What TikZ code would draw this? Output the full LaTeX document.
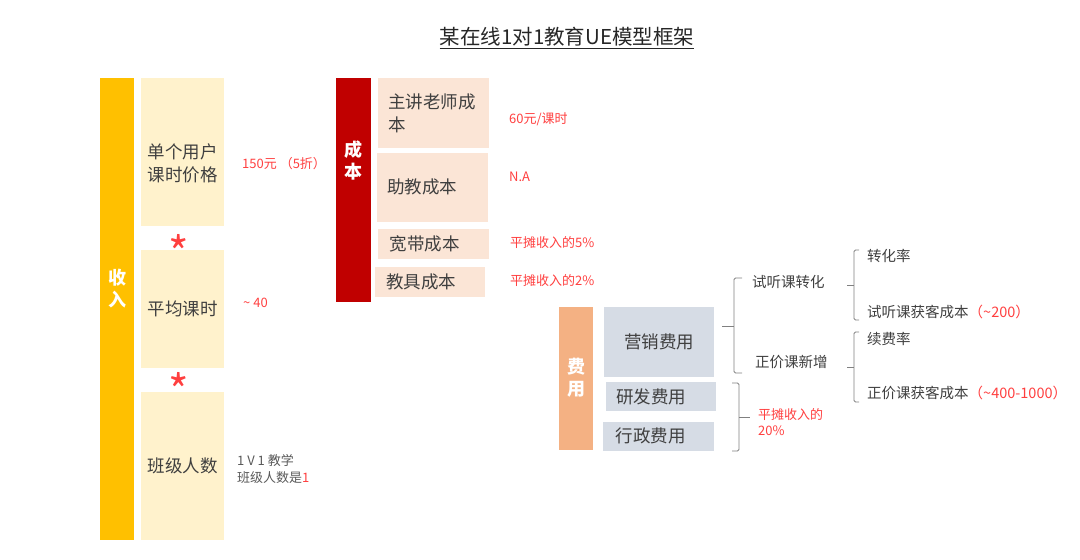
\documentclass[tikz,border=0pt]{standalone}
\usepackage{fontspec}
\setmainfont{Noto Sans CJK SC}
\usepackage{tikz}
\definecolor{cIngreso}{HTML}{FFC000}
\definecolor{cAmar}{HTML}{FFF2CC}
\definecolor{cCosto}{HTML}{C00000}
\definecolor{cMel}{HTML}{FBE5D6}
\definecolor{cGasto}{HTML}{F4B183}
\definecolor{cAzul}{HTML}{D6DCE5}
\definecolor{gristx}{HTML}{3F3F3F}
\definecolor{grisnota}{HTML}{595959}
\definecolor{rojo}{HTML}{FF3F3F}
\definecolor{grisllave}{HTML}{808080}

\begin{document}
\begin{tikzpicture}[x=1pt,y=-1pt,
  %%Configuración
  titulo/.style  = {font=\fontsize{20.5}{24}\selectfont, text=black!85, inner sep=0pt},
  barra/.style   = {fill=#1, inner sep=0pt, minimum width=34.5pt},
  bartxt/.style  = {font=\fontsize{18}{22}\selectfont\bfseries, text=white, align=center, inner sep=0pt},
  caja/.style    = {fill=#1, inner sep=0pt, font=\fontsize{17.5}{23}\selectfont, text=gristx},
  txt/.style     = {font=\fontsize{17.5}{23}\selectfont, text=gristx, align=center, inner sep=0pt},
  estrella/.style= {font=\fontsize{44}{44}\selectfont, text=rojo, inner sep=0pt},
  nota/.style    = {anchor=west, font=\fontsize{13}{16}\selectfont, text=rojo, inner sep=0pt},
  notagris/.style= {anchor=west, font=\fontsize{13}{17}\selectfont, text=grisnota, inner sep=0pt, align=left},
  rama/.style    = {anchor=west, font=\fontsize{14.5}{17}\selectfont, text=gristx, inner sep=0pt},
  llave/.style   = {draw=grisllave, line width=0.8pt, rounded corners=1.5pt}
  ]
  \useasboundingbox (0,0) rectangle (1080,560);

  %%Titulo
  \node [titulo] (tit) at (567,38) {\underline{某在线1对1教育UE模型框架}};

  %%Ingreso
  \node [barra=cIngreso, minimum height=462pt] (ing) at (117,309) {};
  \node [bartxt] (ingt) at (117,289) {收\\入};
  \node [caja=cAmar, minimum width=83pt, minimum height=148pt] (pre) at (182.5,152) {};
  \node [txt] (pret) at (182.5,163) {单个用户\\课时价格};
  \node [estrella] (e1) at (179,252) {*};
  \node [caja=cAmar, minimum width=83pt, minimum height=118pt] (hor) at (182.5,309) {平均课时};
  \node [estrella] (e2) at (179,390) {*};
  \node [caja=cAmar, minimum width=83pt, minimum height=148pt] (cla) at (182.5,466) {班级人数};
  \node [nota] (n1) at (242,164) {150元 （5折）};
  \node [nota] (n2) at (243,303) {\textasciitilde{} 40};
  \node [notagris] (n3) at (237,469.5) {1 V 1 教学\\班级人数是\textcolor{rojo}{1}};

  %%Costo
  \node [barra=cCosto, minimum height=224pt] (cos) at (353.5,190) {};
  \node [bartxt] (cost) at (353.5,161) {成\\本};
  \node [caja=cMel, minimum width=111pt, minimum height=70pt, text width=91pt, align=left] (cp) at (433.5,113) {主讲老师成\\本};
  \node [caja=cMel, minimum width=111pt, minimum height=69pt, text width=91pt, align=left] (ca) at (432.5,187) {助教成本};
  \node [caja=cMel, minimum width=111pt, minimum height=30pt, text width=88pt, align=left] (cb) at (433.5,244) {宽带成本};
  \node [caja=cMel, minimum width=110pt, minimum height=30pt, text width=88pt, align=left] (cj) at (430,282) {教具成本};
  \node [nota] (n4) at (509,119) {60元/课时};
  \node [nota] (n5) at (509,177) {N.A};
  \node [nota] (n6) at (510,243) {平摊收入的5\%};
  \node [nota] (n7) at (510,281) {平摊收入的2\%};

  %%Gasto
  \node [barra=cGasto, minimum height=143pt] (gas) at (576,378.5) {};
  \node [bartxt] (gast) at (576,378) {费\\用};
  \node [caja=cAzul, minimum width=110pt, minimum height=70pt] (mk) at (659,342) {营销费用};
  \node [caja=cAzul, minimum width=110pt, minimum height=29pt, text width=90pt, align=left] (id) at (661,396.5) {研发费用};
  \node [caja=cAzul, minimum width=111pt, minimum height=29pt, text width=86pt, align=left] (ad) at (658.5,436) {行政费用};
  \node [rama] (st) at (752,282) {试听课转化};
  \node [rama] (zj) at (755,362) {正价课新增};
  \node [rama] (zh) at (867,256) {转化率};
  \node [rama] (sk) at (867,312) {试听课获客成本\textcolor{rojo}{（\textasciitilde200）}};
  \node [rama] (xf) at (867,339) {续费率};
  \node [rama] (zk) at (867,393) {正价课获客成本\textcolor{rojo}{（\textasciitilde400-1000）}};
  \node [nota, align=left] (n8) at (758,422) {平摊收入的\\20\%};

  %%Llaves
  \draw [llave] (742,278) -| (734,373) -- ++(8,0);
  \draw [llave] (722,326) -- ++(12,0);
  \draw [llave] (859,250) -| (854,320) -- ++(5,0);
  \draw [llave] (847,285) -- ++(7,0);
  \draw [llave] (859,332) -| (854,402) -- ++(5,0);
  \draw [llave] (847,367) -- ++(7,0);
  \draw [llave] (732,383) -| (739,451) -- ++(-7,0);
  \draw [llave] (739,417) -- ++(11,0);
\end{tikzpicture}
\end{document}
